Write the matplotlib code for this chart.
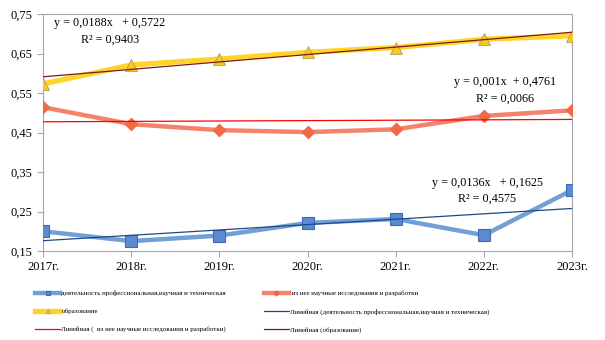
import matplotlib
matplotlib.use("Agg")
import matplotlib.pyplot as plt
import numpy as np

years = ["2017г.", "2018г.", "2019г.", "2020г.", "2021г.", "2022г.", "2023г."]
prof = [0.200, 0.175, 0.189, 0.221, 0.231, 0.190, 0.304]
research = [0.514, 0.471, 0.456, 0.451, 0.458, 0.492, 0.506]
educ = [0.573, 0.621, 0.636, 0.653, 0.665, 0.686, 0.695]

labels = ["деятельность профессиональная,научная и техническая",
          " из нее научные исследования и разработки",
          "образование"]
trend_labels = ["Линейная (деятельность профессиональная,научная и техническая)",
                "Линейная (  из нее научные исследования и разработки)",
                "Линейная (образование)"]
slopes = [0.0136, 0.001, 0.0188]
intercepts = [0.1625, 0.4761, 0.5722]
eq_texts = [("y = 0,0136x   + 0,1625", "R² = 0,4575"),
            ("y = 0,001x  + 0,4761", "R² = 0,0066"),
            ("y = 0,0188x   + 0,5722", "R² = 0,9403")]
yticks = [0.15, 0.25, 0.35, 0.45, 0.55, 0.65, 0.75]

plt.rcParams['font.family'] = ['Liberation Serif', 'DejaVu Serif']

fig = plt.figure(figsize=(6.05, 3.4), dpi=100)
ax = fig.add_axes([43/605, 1 - 251/340, (572-43)/605, (251-14)/340])

x = np.arange(1, len(years) + 1)
h1, = ax.plot(x, prof, color='#729fd6', lw=3.2, marker='s', ms=8,
              mfc='#5b8ad0', mec='#3d6ab8', mew=0.8, label=labels[0], zorder=3)
h2, = ax.plot(x, research, color='#f5826a', lw=3.2, marker='D', ms=6,
              mfc='#f26a45', mec='#f26a45', label=labels[1], zorder=3)
h3, = ax.plot(x, educ, color='#ffd42a', lw=3.8, marker='^', ms=8,
              mfc='#f8c81c', mec='#b0a060', mew=0.6, label=labels[2], zorder=3)

tcolors = ['#1a4a8a', '#ff0000', '#7a1a1a']
th = []
for s, b, c, lab in zip(slopes, intercepts, tcolors, trend_labels):
    t, = ax.plot(x, s * x + b, color=c, lw=0.9, label=lab, zorder=4)
    th.append(t)

# equations
fs_eq = 8.7
ax.text(1.76, 0.727, eq_texts[2][0], ha='center', va='center', fontsize=fs_eq)
ax.text(1.76, 0.684, eq_texts[2][1], ha='center', va='center', fontsize=fs_eq)
ax.text(6.24, 0.578, eq_texts[1][0], ha='center', va='center', fontsize=fs_eq)
ax.text(6.24, 0.536, eq_texts[1][1], ha='center', va='center', fontsize=fs_eq)
ax.text(6.04, 0.322, eq_texts[0][0], ha='center', va='center', fontsize=fs_eq)
ax.text(6.04, 0.282, eq_texts[0][1], ha='center', va='center', fontsize=fs_eq)

ax.set_xlim(1, 7)
ax.set_ylim(0.15, 0.75)
ax.set_xticks(x)
ax.set_xticklabels(years, fontsize=9)
ax.set_yticks(yticks)
ax.set_yticklabels([f"{v:.2f}".replace('.', ',') for v in yticks], fontsize=9)
for sp in ax.spines.values():
    sp.set_color('#a6a6a6')
    sp.set_linewidth(0.8)
ax.tick_params(axis='both', colors='#a6a6a6', labelcolor='black', length=4, width=0.8)

# row-major ordering: matplotlib fills columns first
handles = [h1, h3, th[1], h2, th[0], th[2]]
labs = [h.get_label() for h in handles]
fig.legend(handles, labs, loc='upper left', bbox_to_anchor=(35/605, 1 - 290/340),
           ncol=2, fontsize=5, frameon=False, handlelength=3.6, handletextpad=0.2,
           columnspacing=5.4, labelspacing=1.75, borderaxespad=0, borderpad=0,
           markerscale=0.4)

fig.savefig("out.png", dpi=100)
